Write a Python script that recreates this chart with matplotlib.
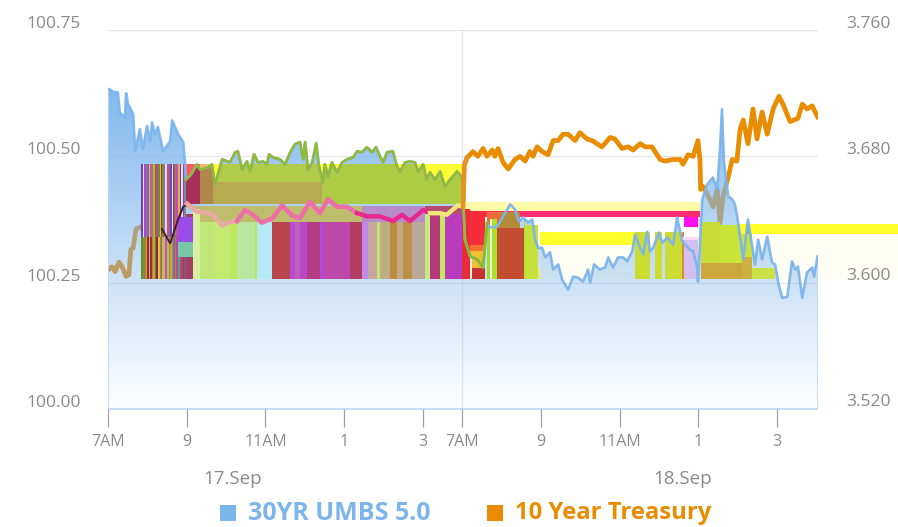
import numpy as np
import matplotlib
matplotlib.use("Agg")
import matplotlib.pyplot as plt
from matplotlib.patches import PathPatch, Rectangle
from matplotlib.path import Path
from matplotlib.transforms import ScaledTranslation

plt.rcParams['font.family'] = ['Open Sans', 'DejaVu Sans']

UMBS_NAME = "30YR UMBS 5.0"
TSY_NAME = "10 Year Treasury"
X_TICKS = [0, 2, 4, 6, 8, 9, 11, 13, 15, 17]
X_LABELS = ["7AM", "9", "11AM", "1", "3", "7AM", "9", "11AM", "1", "3"]
DAY_LABELS = ["17.Sep", "18.Sep"]
LEFT_TICKS = [100.00, 100.25, 100.50, 100.75]
RIGHT_TICKS = [3.520, 3.600, 3.680, 3.760]

umbs_hours = [0.00,0.03,0.15,0.25,0.30,0.43,0.46,0.51,0.58,0.64,0.69,0.81,0.89,0.99,1.07,1.12,1.19,1.27,1.40,1.58,1.63,1.78,1.91,1.96,1.98,2.11,2.26,2.34,2.54,2.64,2.72,2.90,3.10,3.23,3.30,3.41,3.53,3.61,3.71,3.81,3.94,4.04,4.09,4.19,4.37,4.50,4.63,4.75,4.88,4.96,5.01,5.08,5.19,5.29,5.36,5.46,5.51,5.59,5.69,5.82,5.95,6.07,6.23,6.33,6.45,6.58,6.71,6.81,6.91,6.99,7.09,7.24,7.34,7.42,7.55,7.67,7.80,7.88,8.01,8.09,8.18,8.31,8.44,8.56,8.69,8.87,9.00,9.07,9.20,9.38,9.53,9.63,9.71,9.89,10.04,10.22,10.34,10.44,10.55,10.67,10.78,10.85,10.93,11.03,11.11,11.23,11.31,11.44,11.54,11.69,11.82,11.94,12.07,12.20,12.25,12.35,12.50,12.63,12.71,12.83,12.96,13.09,13.19,13.32,13.39,13.52,13.60,13.70,13.77,13.85,14.00,14.08,14.21,14.36,14.46,14.59,14.79,14.87,14.97,14.99,15.10,15.22,15.37,15.48,15.55,15.60,15.65,15.76,15.86,15.93,16.01,16.14,16.26,16.37,16.44,16.52,16.62,16.75,16.87,16.95,17.03,17.13,17.26,17.38,17.46,17.53,17.64,17.76,17.89,17.94,18.03]
umbs_price = [100.633,100.633,100.627,100.627,100.587,100.577,100.625,100.603,100.593,100.583,100.510,100.554,100.514,100.560,100.530,100.567,100.544,100.558,100.510,100.530,100.571,100.544,100.528,100.484,100.454,100.464,100.484,100.474,100.478,100.484,100.444,100.494,100.488,100.508,100.510,100.474,100.490,100.470,100.504,100.488,100.490,100.484,100.504,100.498,100.494,100.484,100.508,100.524,100.528,100.494,100.528,100.474,100.488,100.526,100.480,100.448,100.484,100.460,100.488,100.468,100.488,100.494,100.498,100.510,100.508,100.518,100.508,100.518,100.500,100.488,100.508,100.510,100.480,100.470,100.488,100.490,100.488,100.470,100.484,100.454,100.468,100.454,100.470,100.440,100.454,100.470,100.458,100.335,100.302,100.296,100.280,100.369,100.359,100.361,100.381,100.405,100.395,100.371,100.379,100.369,100.375,100.335,100.319,100.319,100.300,100.310,100.276,100.286,100.256,100.236,100.262,100.260,100.252,100.276,100.250,100.286,100.276,100.280,100.300,100.280,100.300,100.300,100.292,100.312,100.345,100.319,100.306,100.351,100.312,100.319,100.349,100.329,100.339,100.325,100.379,100.331,100.315,100.312,100.280,100.252,100.415,100.444,100.458,100.435,100.514,100.593,100.488,100.421,100.415,100.405,100.369,100.296,100.375,100.321,100.286,100.335,100.296,100.341,100.290,100.286,100.250,100.220,100.222,100.292,100.276,100.282,100.220,100.270,100.280,100.262,100.302]

tsy_hours = [0.00,0.10,0.18,0.28,0.36,0.46,0.53,0.58,0.64,0.71,0.81,0.89,1.19,1.37,1.58,1.78,1.91,2.01,2.26,2.52,2.67,2.90,3.05,3.28,3.48,3.68,3.91,4.19,4.42,4.70,4.88,5.13,5.39,5.59,5.82,6.07,6.33,6.58,6.91,7.24,7.47,7.67,8.01,8.18,8.44,8.61,8.89,9.02,9.05,9.12,9.27,9.40,9.53,9.63,9.76,9.83,9.91,10.04,10.17,10.34,10.47,10.60,10.72,10.80,10.90,11.03,11.18,11.31,11.44,11.56,11.69,11.87,11.99,12.17,12.30,12.55,12.76,12.88,13.06,13.22,13.34,13.52,13.65,13.82,14.03,14.15,14.36,14.54,14.61,14.74,14.87,14.99,15.04,15.06,15.12,15.25,15.37,15.48,15.55,15.63,15.76,15.86,15.98,16.06,16.14,16.26,16.39,16.49,16.62,16.75,16.90,17.05,17.15,17.33,17.53,17.64,17.76,17.89,18.03]
tsy_yield = [3.608,3.610,3.607,3.613,3.610,3.604,3.605,3.621,3.622,3.634,3.635,3.636,3.622,3.634,3.625,3.640,3.648,3.650,3.645,3.644,3.643,3.636,3.638,3.639,3.646,3.643,3.638,3.641,3.649,3.642,3.641,3.651,3.644,3.653,3.648,3.648,3.644,3.642,3.642,3.639,3.643,3.639,3.646,3.644,3.644,3.643,3.649,3.648,3.674,3.679,3.683,3.680,3.685,3.680,3.684,3.680,3.685,3.676,3.672,3.678,3.680,3.677,3.683,3.680,3.686,3.683,3.681,3.690,3.690,3.694,3.694,3.690,3.695,3.691,3.690,3.686,3.692,3.691,3.685,3.686,3.684,3.688,3.686,3.686,3.678,3.677,3.678,3.678,3.675,3.681,3.680,3.690,3.678,3.659,3.661,3.655,3.648,3.659,3.638,3.655,3.667,3.678,3.677,3.697,3.703,3.688,3.710,3.691,3.708,3.694,3.710,3.718,3.713,3.702,3.704,3.713,3.710,3.712,3.705]

# Narrow stripes at the start of the first session, read left to right
dense_edges = [0.84,0.88,0.92,0.96,1.00,1.03,1.07,1.11,1.15,1.19,1.23,1.27,1.31,1.34,1.38,1.42,1.46,1.50,1.54,1.58,1.62,1.66,1.70,1.74,1.78,1.82,1.86,1.90,1.94,1.98]
dense_upper = ["#6a3fd0","#f0e8f8","#c040c8","#3f9f6a","#8a5ad8","#e8b848","#c85a9a","#5f9f40","#d8a040","#8a6a30","#b04a90","#6f8f2a","#d8c048","#a03a60","#7a8f30","#9a70c8","#e0d8e8","#c04aa8","#8a7a30","#6a4ad0","#e8e0f0","#b04070","#7a9a50","#c050b0","#e0b050","#5a40c0","#e8d8e8","#a04880","#7090a0"]
dense_lower = ["#5f8f30","#7a9a30","#a08030","#d8a030","#902848","#e0b040","#a02848","#80a020","#d0a040","#60802a","#902838","#e0c040","#80a030","#c84a90","#b0c840","#e0a0b8","#d04ab0","#c0c040","#60a060","#d0a040","#6fb060","#c04aa0","#70a040","#b04aa8","#5f9f5f","#c04a90","#a04878","#904060","#985070"]

# Tall stripes reaching down to the common floor of the colored blocks
stripe_x0 = [1.98,2.16,2.34,2.72,3.10,3.28,3.74,3.79,4.17,4.63,4.75,4.88,5.06,5.39,5.46,6.15,6.45,6.61,6.84,6.91,7.17,7.34,7.50,7.73,8.06,8.18,8.44,8.56,9.00]
stripe_x1 = [2.16,2.34,2.72,3.10,3.28,3.74,3.79,4.17,4.63,4.75,4.88,5.06,5.39,5.46,6.15,6.45,6.61,6.84,6.91,7.17,7.34,7.50,7.73,8.06,8.18,8.44,8.56,9.00,9.20]
stripe_top = [100.385,100.395,100.371,100.371,100.371,100.371,100.371,100.371,100.371,100.371,100.371,100.371,100.371,100.371,100.371,100.371,100.371,100.371,100.371,100.371,100.371,100.371,100.371,100.371,100.385,100.385,100.385,100.385,100.395]
stripe_color = ["#a44068","#d8f0a0","#c0e878","#c4ea70","#bfe85c","#bbe6a0","#b8e858","#b4e8f4","#b8444c","#b848d8","#c060b8","#b848c8","#b43c84","#b048e0","#bc48aa","#b43c60","#c088e8","#c4a8a0","#c8e070","#bcae84","#bc8c40","#c4a884","#bc9048","#bca898","#c8ea80","#b4387a","#c4ea5c","#b83cbc","#e82c3c"]

# Wider blocks, with the color they show above and below the blue line
block_x0 = [1.96,2.34,2.67,2.67,5.44,2.16,6.45,8.06,1.98,9.02,9.02,9.02,9.12,9.12,9.12,9.20,9.63,9.63,9.71,9.76,9.89,9.96,10.57,10.60,10.93,10.98,13.39,13.90,14.15,14.59,14.64,14.59,14.64,15.07,15.07,15.55,16.11,16.37,16.01,14.99]
block_x1 = [2.34,2.67,5.44,5.44,9.02,6.45,8.06,9.00,2.16,15.04,15.04,9.58,9.58,9.58,9.58,9.24,9.71,9.96,9.76,9.89,10.57,10.47,10.60,10.93,10.98,13.39,13.77,14.08,14.59,14.64,14.99,15.04,15.04,15.55,16.37,16.37,16.37,16.95,20.08,15.04]
block_low = [100.405,100.405,100.450,100.405,100.405,100.371,100.371,100.371,100.258,100.391,100.379,100.258,100.313,100.280,100.258,100.258,100.258,100.359,100.258,100.258,100.258,100.359,100.258,100.258,100.258,100.325,100.258,100.258,100.258,100.258,100.258,100.335,100.361,100.288,100.258,100.288,100.258,100.258,100.347,100.361]
block_high = [100.484,100.484,100.484,100.450,100.484,100.401,100.401,100.401,100.385,100.409,100.391,100.391,100.325,100.313,100.280,100.300,100.375,100.389,100.375,100.375,100.359,100.389,100.375,100.365,100.280,100.351,100.351,100.351,100.351,100.351,100.335,100.341,100.379,100.371,100.288,100.365,100.300,100.280,100.367,100.379]
block_out = ["#ff5a5a","#ffb868","#ffff33","#ffff33","#ffff33","#bdbd6c","#b88cc8","#b44c70","#a44068","#fff9a8","#ff2c70","#f82c38","#f56e32","#f0c034","#c83232","#f8f0d8","#9cdc30","#ec6c38","#f0f8d0","#a8e030","#c44c30","#b48c38","#a8e030","#c8e03c","#e8ec80","#ffff2a","#ccdc30","#ccdc30","#ccdc30","#d88a3c","#d4c0f0","#ffd8f8","#ff10f0","#c8dc38","#cca83c","#c8e438","#ccb040","#cce048","#ffff2a","#ffd8f8"]
block_in = ["#a83058","#b08848","#b0cc48","#b8aa50","#aecb44","#bdbd6c","#b88cc8","#b44c70","#a44068","#fff9a8","#ff2c70","#f82c38","#f56e32","#f0c034","#c83232","#f8f0d8","#9cdc30","#ec6c38","#f0f8d0","#a8e030","#c44c30","#b48c38","#a8e030","#c8e03c","#e8ec80","#b0c84c","#ccdc30","#ccdc30","#ccdc30","#d88a3c","#d4c0f0","#ffd8f8","#ff10f0","#c8dc38","#cca83c","#c8e438","#ccb040","#cce048","#8cb038","#ffd8f8"]

# Pale wash behind the right part of the chart
wash_x0 = [10.98]
wash_x1 = [20.08]
wash_low = [100.258]
wash_high = [100.347]

# Small patches sitting over the narrow stripes
patch_x0 = [1.78,1.78]
patch_x1 = [2.16,2.16]
patch_low = [100.330,100.300]
patch_high = [100.380,100.330]
patch_color = ["#9a4ce8","#78c8a8"]

# Where the lines change hue as they pass over the colored blocks
tsy_tint_x0 = [1.25,1.96,3.10,6.20,8.06,9.02]
tsy_tint_x1 = [1.96,3.10,6.20,8.06,9.02,9.06]
tsy_tint_color = ["#40202c","#eca8a4","#ee6ea8","#e8288c","#f0e878","#e89020"]
umbs_tint_x0 = [1.98,9.07]
umbs_tint_x1 = [9.02,9.60]
umbs_tint_color = ["#93b93a","#8cb82c"]

AXIS_GRAY = "#8a8a8a"
BLUE = "#7cb5ec"
ORANGE = "#e98c00"

fig = plt.figure(figsize=(8.98, 5.27), dpi=100)
pos = [108/898, 1-409/527, 710/898, 379/527]
ax_t = fig.add_axes(pos)        # orange line, under the area
ax = fig.add_axes(pos, zorder=2)
ax_top = fig.add_axes(pos, zorder=3)
XMAX = 18.04
for a in (ax, ax_t, ax_top):
    a.set_xlim(0, XMAX)
    a.patch.set_visible(False)
ax.set_ylim(100.00, 100.75)
ax_t.set_ylim(3.52, 3.76)
ax_top.set_ylim(3.52, 3.76)
ax_top.axis("off")
ax_t.axis("off")

# grid
ax_t.hlines(RIGHT_TICKS[1:], 0, XMAX, color="#e6e6e6", lw=1, zorder=0)
ax_t.vlines(9, 3.52, 3.76, color="#e6e6e6", lw=1, zorder=0)

# treasury beneath everything
ax_t.plot(tsy_hours, tsy_yield, color=ORANGE, lw=3.4, solid_joinstyle="round", zorder=2)

# pale wash, behind the area
for x0, x1, lo, hi in zip(wash_x0, wash_x1, wash_low, wash_high):
    ax.add_patch(Rectangle((x0, lo), x1-x0, hi-lo, fc="#fffef4", ec="none", zorder=0.5, clip_on=False))

# area of UMBS with vertical gradient
h = np.asarray(umbs_hours)
p = np.asarray(umbs_price)
verts = np.column_stack([np.r_[h[0], h, h[-1], h[0]], np.r_[100.0, p, 100.0, 100.0]])
codes = [Path.MOVETO] + [Path.LINETO] * (len(verts) - 2) + [Path.CLOSEPOLY]
area_path = Path(verts, codes)

grad = np.zeros((256, 2, 4))
grad[..., :3] = matplotlib.colors.to_rgb(BLUE)
grad[..., 3] = np.linspace(0.98, 0.02, 256)[:, None] ** 1.05
img = ax.imshow(grad, extent=(0, XMAX, 100.0, 100.64), aspect="auto", origin="upper", zorder=1)
ax.set_xlim(0, XMAX); ax.set_ylim(100.00, 100.75)
clip = PathPatch(area_path, transform=ax.transData, fc="none", ec="none")
ax.add_patch(clip)
img.set_clip_path(clip)
ax.vlines([0, XMAX], 100.0, [100.633, 100.302], color="#b8d6f6", lw=1.2, zorder=1.5)
ax.hlines(100.0, 0, XMAX, color="#c6def8", lw=1.4, zorder=1.5, clip_on=False)

# colored blocks
for x0, x1, lo, hi, cout, cin in zip(block_x0, block_x1, block_low, block_high, block_out, block_in):
    ax.add_patch(Rectangle((x0, lo), x1-x0, hi-lo, fc=cout, ec="none", zorder=3, clip_on=False))
    if cin != cout:
        r = Rectangle((x0, lo), x1-x0, hi-lo, fc=cin, ec="none", zorder=3)
        ax.add_patch(r)
        r.set_clip_path(clip)
for x0, x1, top, c in zip(stripe_x0, stripe_x1, stripe_top, stripe_color):
    ax.add_patch(Rectangle((x0, 100.258), x1-x0, top-100.258, fc=c, ec="none", zorder=3.2))
for i in range(len(dense_upper)):
    w = dense_edges[i+1] - dense_edges[i]
    ax.add_patch(Rectangle((dense_edges[i], 100.340), w, 100.484-100.340, fc=dense_upper[i], ec="none", zorder=3.3))
    ax.add_patch(Rectangle((dense_edges[i], 100.258), w, 100.340-100.258, fc=dense_lower[i], ec="none", zorder=3.3))
for x0, x1, lo, hi, c in zip(patch_x0, patch_x1, patch_low, patch_high, patch_color):
    ax.add_patch(Rectangle((x0, lo), x1-x0, hi-lo, fc=c, ec="none", zorder=3.4))

# lines over the blocks
ax.plot(h, p, color=BLUE, lw=1.9, alpha=0.95, zorder=4)
for x0, x1, c in zip(umbs_tint_x0, umbs_tint_x1, umbs_tint_color):
    i0, i1 = np.searchsorted(h, x0), np.searchsorted(h, x1)
    ax.plot(h[i0:i1+1], p[i0:i1+1], color=c, lw=1.9, zorder=4.1)
th = np.asarray(tsy_hours); ty = np.asarray(tsy_yield)
for x0, x1, c in zip(tsy_tint_x0, tsy_tint_x1, tsy_tint_color):
    i0, i1 = np.searchsorted(th, x0), np.searchsorted(th, x1)
    ax_top.plot(th[i0:i1+1], ty[i0:i1+1], color=c, lw=1.4 if c == "#40202c" else 3.2, zorder=5)

# axes dressing
for s in ax.spines.values():
    s.set_visible(False)
ax.set_xticks(X_TICKS, X_LABELS)
ax.tick_params(axis="x", length=13, width=0.9, color="#a0a0a0", labelcolor=AXIS_GRAY,
               labelsize=11.5, pad=5)
ax.set_yticks(LEFT_TICKS, [f"{v:.2f}" for v in LEFT_TICKS])
ax.tick_params(axis="y", length=0, labelcolor=AXIS_GRAY, labelsize=12.5, pad=19.5)
lift = ScaledTranslation(0, 8/100, fig.dpi_scale_trans)
for lab in ax.get_yticklabels():
    lab.set_transform(lab.get_transform() + lift)
for v in RIGHT_TICKS:
    fig.text(846/898, ax_top.transData.transform((0, v))[1]/527 + 6.5/527, f"{v:.3f}",
             color=AXIS_GRAY, fontsize=12.5, va="center", ha="left", zorder=5)

fig.text(233/898, 1-479/527, DAY_LABELS[0], color=AXIS_GRAY, fontsize=13.5, ha="center", va="center")
fig.text(683/898, 1-479/527, DAY_LABELS[1], color=AXIS_GRAY, fontsize=13.5, ha="center", va="center")

# legend
fig.patches.append(Rectangle((220/898, 1-521/527), 16/898, 16/527, transform=fig.transFigure, fc=BLUE, ec="none"))
fig.patches.append(Rectangle((487/898, 1-521/527), 16/898, 16/527, transform=fig.transFigure, fc=ORANGE, ec="none"))
fig.text(248/898, 1-513/527, UMBS_NAME, color=BLUE, fontsize=18, fontweight="bold", ha="left", va="center")
fig.text(515/898, 1-513/527, TSY_NAME, color=ORANGE, fontsize=17.2, fontweight="bold", ha="left", va="center")

fig.savefig("out.png", dpi=100)
